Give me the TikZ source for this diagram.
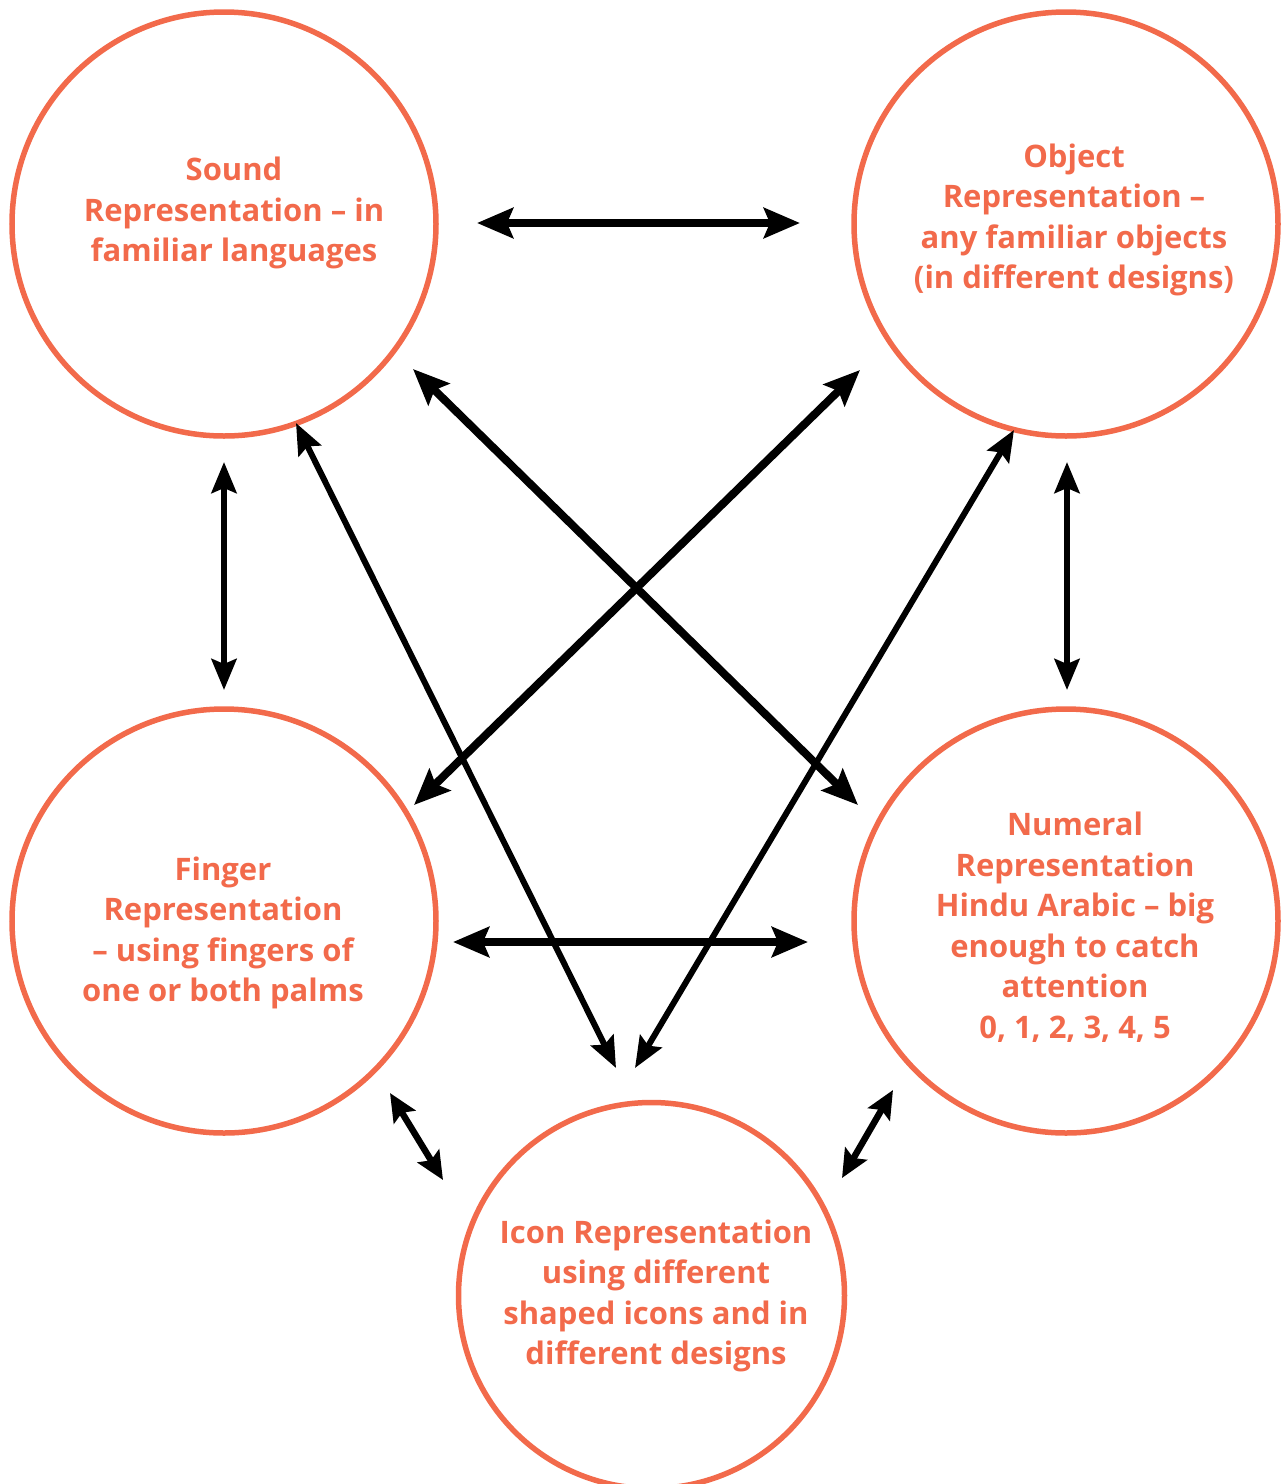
\documentclass[tikz,border=0pt]{standalone}
\usepackage{fontspec}
\setmainfont{Open Sans}
\usetikzlibrary{arrows.meta}
\definecolor{coral}{HTML}{F26A4B}
\begin{document}
\begin{tikzpicture}[x=1pt,y=-1pt,
  ring/.style={draw=coral, line width=5.5pt, circle, inner sep=0pt},
  lbl/.style={text=coral, font=\bfseries\fontsize{31}{40.5}\selectfont, align=center, inner sep=0pt},
  bigarrow/.style={line width=8pt, {Stealth[length=36pt,width=30pt,inset=6pt]}-{Stealth[length=36pt,width=30pt,inset=6pt]}},
  midarrow/.style={line width=6pt, {Stealth[length=31pt,width=25pt,inset=5pt]}-{Stealth[length=31pt,width=25pt,inset=5pt]}},
  smallarrow/.style={line width=6.5pt, {Stealth[length=28pt,width=25pt,inset=5pt]}-{Stealth[length=28pt,width=25pt,inset=5pt]}}
]
\useasboundingbox (0,0) rectangle (1282,1484);

% circles
\node[ring, minimum size=424pt] (sound) at (224,224) {};
\node[ring, minimum size=424pt] (object) at (1066,224) {};
\node[ring, minimum size=424pt] (finger) at (224,921) {};
\node[ring, minimum size=424pt] (numeral) at (1066,921) {};
\node[ring, minimum size=386pt] (icon) at (651.5,1295.5) {};

% labels
\node[lbl] (tsound) at (234,213) {Sound\\Representation – in\\familiar languages};
\node[lbl] (tobject) at (1074,220) {Object\\Representation –\\any familiar objects\\(in different designs)};
\node[lbl] (tfinger) at (223,933) {Finger\\Representation\\– using fingers of\\one or both palms};
\node[lbl] (tnumeral) at (1075,927) {Numeral\\Representation\\Hindu Arabic – big\\enough to catch\\attention\\0, 1, 2, 3, 4, 5};
\node[lbl] (ticon) at (656,1296) {Icon Representation\\using different\\shaped icons and in\\different designs};

% arrow end points
\coordinate (so-a) at (477,223);  \coordinate (ob-a) at (800,223);
\coordinate (so-b) at (224,462);  \coordinate (fi-b) at (224,690);
\coordinate (ob-b) at (1067,462); \coordinate (nu-b) at (1067,690);
\coordinate (so-c) at (413,369);  \coordinate (nu-c) at (858,805);
\coordinate (ob-c) at (860,370);  \coordinate (fi-c) at (414,805);
\coordinate (so-d) at (296,423);  \coordinate (ic-d) at (616,1068);
\coordinate (ob-d) at (1014,430); \coordinate (ic-e) at (635,1068);
\coordinate (fi-f) at (453,942);  \coordinate (nu-f) at (808,942);
\coordinate (fi-g) at (390,1093); \coordinate (ic-g) at (443,1180);
\coordinate (nu-h) at (893,1090); \coordinate (ic-h) at (842,1178);

% connectors
\draw[bigarrow] (so-a) -- (ob-a);
\draw[midarrow] (so-b) -- (fi-b);
\draw[midarrow] (ob-b) -- (nu-b);
\draw[bigarrow] (so-c) -- (nu-c);
\draw[bigarrow] (ob-c) -- (fi-c);
\draw[midarrow] (so-d) -- (ic-d);
\draw[midarrow] (ob-d) -- (ic-e);
\draw[bigarrow] (fi-f) -- (nu-f);
\draw[smallarrow] (fi-g) -- (ic-g);
\draw[smallarrow] (nu-h) -- (ic-h);
\end{tikzpicture}
\end{document}
